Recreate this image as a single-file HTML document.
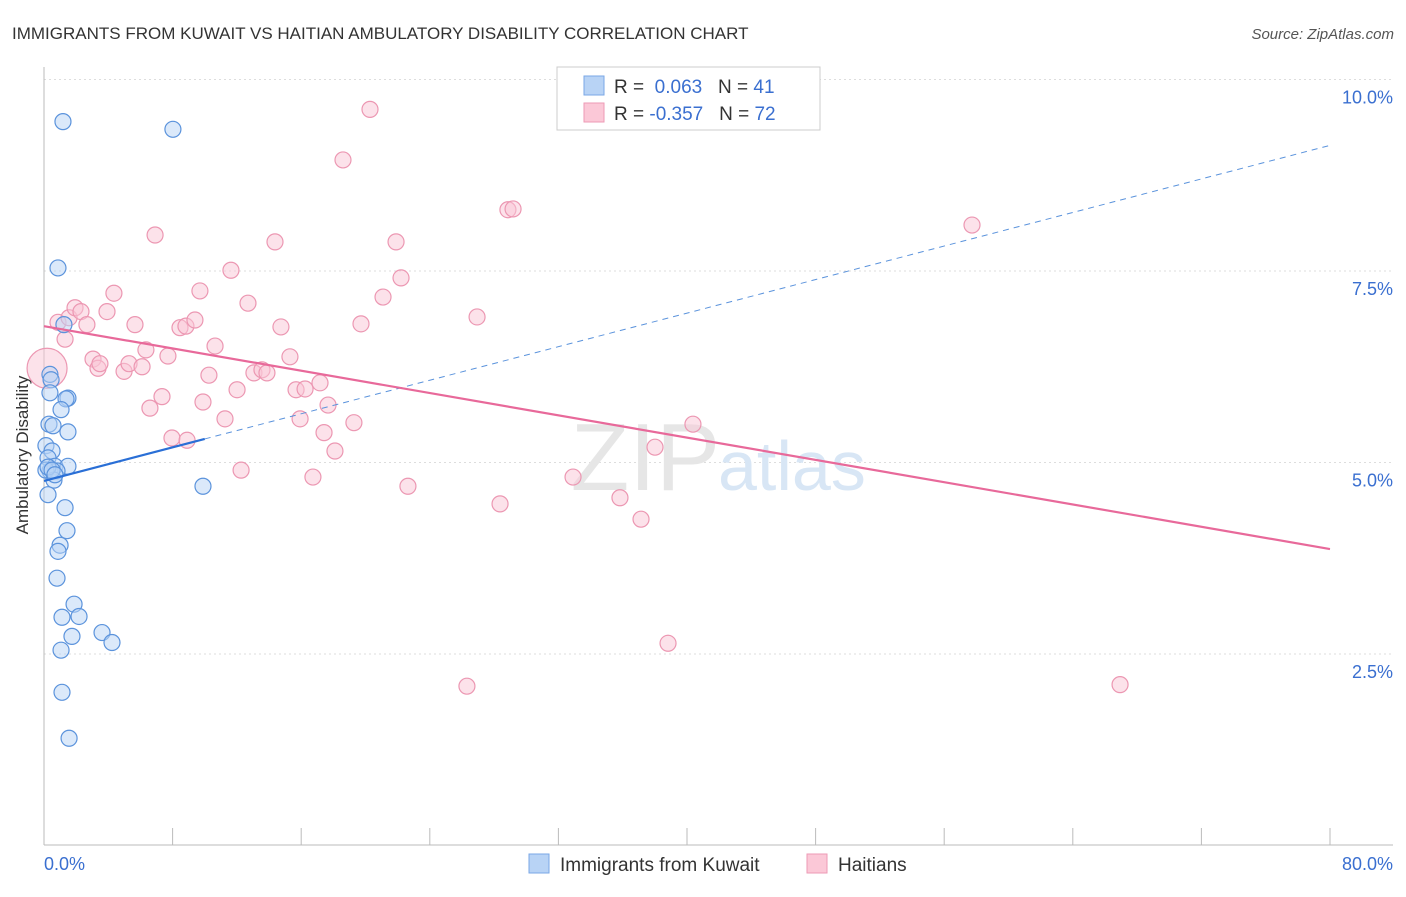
<!DOCTYPE html>
<html><head><meta charset="utf-8"><style>
body{margin:0;background:#fff;font-family:"Liberation Sans",sans-serif;}
svg text{font-family:"Liberation Sans",sans-serif;}
</style></head><body>
<svg id="c" width="1406" height="892" xmlns="http://www.w3.org/2000/svg">
<text x="12" y="39" font-size="17" fill="#333">IMMIGRANTS FROM KUWAIT VS HAITIAN AMBULATORY DISABILITY CORRELATION CHART</text>
<text x="1394" y="39" font-size="15" fill="#555" font-style="italic" text-anchor="end">Source: ZipAtlas.com</text>
<g id="grid"></g>
<text x="720" y="490" font-size="96" fill="#e6e6e6" font-family="Liberation Serif" text-anchor="end">ZIP</text>
<text x="718" y="490" font-size="70" fill="#d8e6f5">atlas</text>
<line x1="44" y1="67" x2="44" y2="845" stroke="#bbb"/>
<line x1="44" y1="845" x2="1393" y2="845" stroke="#bbb"/>
<g id="ticks"></g>
<text x="28" y="455" font-size="17" fill="#333" transform="rotate(-90 28 455)" text-anchor="middle">Ambulatory Disability</text>
<text x="44" y="870" font-size="18" fill="#3a6fd0">0.0%</text>
<text x="1393" y="870" font-size="18" fill="#3a6fd0" text-anchor="end">80.0%</text>
<g id="pts"></g>
<g id="lines"></g>
<g>
<rect x="557" y="67" width="263" height="63" fill="#fff" stroke="#ccc"/>
<rect x="584" y="76" width="20" height="19" fill="#b8d3f5" stroke="#7aa7e6"/>
<rect x="584" y="103" width="20" height="19" fill="#fbc8d7" stroke="#ee9ab5"/>
<text x="614" y="93" font-size="19" fill="#333">R = <tspan fill="#3a6fd0">&#160;0.063</tspan>&#160;&#160;&#160;N = <tspan fill="#3a6fd0">41</tspan></text>
<text x="614" y="120" font-size="19" fill="#333">R = <tspan fill="#3a6fd0">-0.357</tspan>&#160;&#160;&#160;N = <tspan fill="#3a6fd0">72</tspan></text>
</g>
<g>
<rect x="529" y="854" width="20" height="19" fill="#b8d3f5" stroke="#7aa7e6"/>
<text x="560" y="871" font-size="19" fill="#333">Immigrants from Kuwait</text>
<rect x="807" y="854" width="20" height="19" fill="#fbc8d7" stroke="#ee9ab5"/>
<text x="838" y="871" font-size="19" fill="#333">Haitians</text>
</g>
</svg>
<script>
const yTicks=[2.5,5.0,7.5,10.0];
const yTickLabels=["2.5%","5.0%","7.5%","10.0%"];
const xTicks=[0,8,16,24,32,40,48,56,64,72,80];
const blueX=[1.18,8.02,0.87,1.24,0.37,0.44,0.37,1.49,1.37,1.06,0.31,0.56,1.49,0.12,0.50,0.25,0.68,1.49,0.37,0.81,0.12,0.62,9.89,0.25,1.31,1.43,1.00,0.87,0.81,1.87,1.12,2.18,1.74,3.61,4.23,1.06,1.12,1.56,0.25,0.50,0.68];
const blueY=[9.45,9.35,7.54,6.80,6.15,6.08,5.91,5.84,5.83,5.69,5.50,5.48,5.40,5.22,5.15,5.06,4.95,4.95,4.89,4.89,4.90,4.77,4.69,4.58,4.41,4.11,3.92,3.84,3.49,3.15,2.98,2.99,2.73,2.78,2.65,2.55,2.00,1.40,4.94,4.90,4.84];
const pinkX=[0.19,0.87,1.31,1.56,1.93,2.30,2.67,3.05,3.36,3.48,3.92,4.35,4.98,5.29,5.66,6.10,6.34,6.59,6.91,7.34,7.71,7.96,8.46,8.83,8.90,9.39,9.70,9.89,10.26,10.64,11.26,11.63,12.01,12.26,12.69,13.06,13.56,13.87,14.37,14.74,15.30,15.68,15.93,16.24,16.73,17.17,17.42,17.67,18.10,18.60,19.28,19.72,20.28,21.09,21.90,22.21,22.64,26.31,26.94,28.37,28.86,29.18,32.91,35.83,37.14,38.01,38.82,40.37,57.73,66.94];
const pinkY=[6.23,6.83,6.61,6.89,7.02,6.97,6.80,6.35,6.23,6.29,6.97,7.21,6.19,6.29,6.80,6.25,6.47,5.71,7.97,5.86,6.39,5.32,6.76,6.78,5.29,6.86,7.24,5.79,6.14,6.52,5.57,7.51,5.95,4.90,7.08,6.17,6.21,6.17,7.88,6.77,6.38,5.95,5.57,5.96,4.81,6.04,5.39,5.75,5.15,8.95,5.52,6.81,9.61,7.16,7.88,7.41,4.69,2.08,6.90,4.46,8.30,8.31,4.81,4.54,4.26,5.20,2.64,5.50,8.10,2.10];
const blueTrend=[4.76,9.14]; // at x=0 and x=80
const blueSolidEnd=10;
const pinkTrend=[6.78,3.87];
const NS="http://www.w3.org/2000/svg";
const sx=v=>44+v*(1286/80);
const sy=v=>845.5-v*76.6;
function mk(tag,parent,attrs){const e=document.createElementNS(NS,tag);for(const k in attrs)e.setAttribute(k,attrs[k]);parent.appendChild(e);return e;}
const grid=document.getElementById('grid');
yTicks.forEach((t,i)=>{
 const l=mk('line',grid,{x1:44,x2:1393,y1:sy(t),y2:sy(t),stroke:'#ddd','stroke-dasharray':'2,3'});
 
 
 const tx=mk('text',grid,{x:1393,y:sy(t)+24,'font-size':18,fill:'#3a6fd0','text-anchor':'end'});
 tx.textContent=yTickLabels[i];
 
 
});
const tk=document.getElementById('ticks');
xTicks.forEach(t=>{
 const l=mk('line',tk,{x1:sx(t),x2:sx(t),y1:828,y2:845,stroke:'#bbb'});
 
 
});
const pts=document.getElementById('pts');
pinkX.forEach((x,i)=>{
 const c=mk('circle',pts,{cx:sx(x),cy:sy(pinkY[i]),r:i===0?20:8,fill:'#f9c6d5','fill-opacity':0.5,stroke:'#ec97b2','stroke-width':1.2});
 
 
});
blueX.forEach((x,i)=>{
 const c=mk('circle',pts,{cx:sx(x),cy:sy(blueY[i]),r:8,fill:'#b8d3f5','fill-opacity':0.5,stroke:'#5b93dc','stroke-width':1.2});
 
 
});
const ln=document.getElementById('lines');
const by=x=>blueTrend[0]+(blueTrend[1]-blueTrend[0])*x/80;
let a=mk('line',ln,{x1:sx(blueSolidEnd),y1:sy(by(blueSolidEnd)),x2:sx(80),y2:sy(by(80)),stroke:'#5b93dc','stroke-width':1,'stroke-dasharray':'6,5'});


a=mk('line',ln,{x1:sx(0),y1:sy(by(0)),x2:sx(blueSolidEnd),y2:sy(by(blueSolidEnd)),stroke:'#2a6fd6','stroke-width':2.2});


a=mk('line',ln,{x1:sx(0),y1:sy(pinkTrend[0]),x2:sx(80),y2:sy(pinkTrend[1]),stroke:'#e8699a','stroke-width':2.2});


</script>
</body></html>
